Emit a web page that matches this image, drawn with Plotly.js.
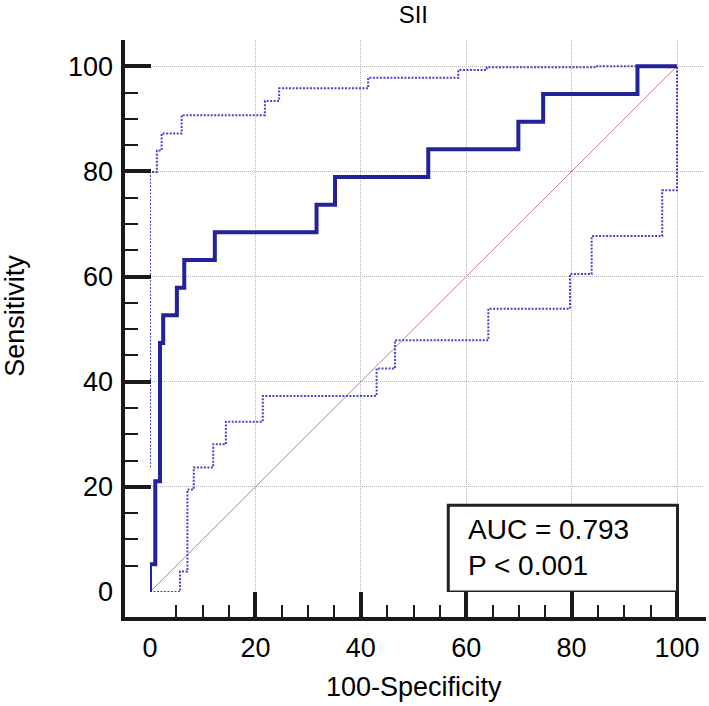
<!DOCTYPE html>
<html>
<head>
<meta charset="utf-8">
<script src="https://cdn.plot.ly/plotly-3.0.1.min.js"></script>
<style>html,body{margin:0;padding:0;background:#fff;}#chart{width:709px;height:706px;}</style>
</head>
<body>
<div id="chart"></div>
<script>
// ROC curve (100-Specificity, Sensitivity) step corners
const rocFpr = [0, 0, 1.0, 1.9, 2.5, 5.1, 6.5, 12.3, 31.6, 35.1, 52.8, 69.9, 74.6, 92.5, 100];
const rocTpr = [0, 5.26, 21.05, 47.37, 52.63, 57.89, 63.16, 68.42, 73.68, 78.95, 84.21, 89.47, 94.74, 100, 100];
// Upper 95% confidence bound
const upperFpr = [0, 0, 1.3, 2.2, 6.0, 21.8, 24.5, 41.4, 58.5, 63.9, 84.8, 100];
const upperTpr = [23.7, 79.9, 84.0, 87.2, 90.7, 93.4, 95.8, 97.8, 99.3, 99.8, 100, 100];
// Lower 95% confidence bound
const lowerFpr = [0, 5.7, 7.1, 8.3, 12.0, 14.4, 21.4, 43.0, 46.5, 64.2, 79.7, 83.8, 97.2, 100];
const lowerTpr = [0, 3.9, 19.5, 23.7, 28.1, 32.4, 37.3, 42.5, 47.9, 53.9, 60.5, 67.7, 76.4, 100];
// Reference diagonal
const diagX = [0, 100];
const diagY = [0, 100];
// Ticks
const majorTicks = [0, 20, 40, 60, 80, 100];
const majorLabels = ['0', '20', '40', '60', '80', '100'];
const minorTicks = [5, 10, 15, 25, 30, 35, 45, 50, 55, 65, 70, 75, 85, 90, 95];
// Texts
const chartTitle = 'SII';
const xTitle = '100-Specificity';
const yTitle = 'Sensitivity';
const aucText = 'AUC = 0.793';
const pText = 'P &lt; 0.001';

const FONT = 'Liberation Sans, Arial, sans-serif';
const ciColor = '#4646c8';

const traces = [
  {x: diagX, y: diagY, mode: 'lines', line: {color: '#c98080', width: 1}, hoverinfo: 'skip'},
  {x: lowerFpr, y: lowerTpr, mode: 'lines', line: {color: ciColor, width: 2, dash: '2px,1.5px', shape: 'hv'}},
  {x: upperFpr, y: upperTpr, mode: 'lines', line: {color: ciColor, width: 2, dash: '2px,1.5px', shape: 'hv'}},
  {x: rocFpr, y: rocTpr, mode: 'lines', line: {color: '#22229a', width: 4, shape: 'hv'}}
];

const axisCommon = {
  range: [0, 105],
  tickmode: 'array',
  tickvals: majorTicks,
  ticktext: majorLabels,
  ticks: 'inside',
  ticklen: 27,
  tickwidth: 4,
  tickcolor: '#1a1a1a',
  showline: false,
  zeroline: false,
  showgrid: true,
  gridcolor: '#b4b4b4',
  gridwidth: 1,
  griddash: '1px,1px',
  tickfont: {family: FONT, size: 27, color: '#000'},
  minor: {tickmode: 'array', tickvals: minorTicks, ticks: 'inside', ticklen: 14, tickwidth: 2, tickcolor: '#1a1a1a', showgrid: false},
  anchor: 'free',
  position: 0,
  fixedrange: true,
  automargin: false
};

const layout = {
  width: 709,
  height: 706,
  paper_bgcolor: '#fff',
  plot_bgcolor: '#fff',
  showlegend: false,
  margin: {l: 123, r: 3, t: 40, b: 87},
  title: {text: chartTitle, font: {family: FONT, size: 24, color: '#000'}, xref: 'paper', x: 0.498, xanchor: 'center', yref: 'container', y: 0.979, yanchor: 'middle'},
  xaxis: Object.assign({}, axisCommon, {
    domain: [27 / 583, 580.35 / 583],
    ticklabelstandoff: 10
  }),
  yaxis: Object.assign({}, axisCommon, {
    domain: [27 / 579, 1],
    ticklabelstandoff: 10,
    title: {text: yTitle, font: {family: FONT, size: 27, color: '#000'}, standoff: 35}
  }),
  shapes: [
    {type: 'line', xref: 'paper', yref: 'paper', x0: 0, x1: 0, y0: -0.003, y1: 1, line: {color: '#1a1a1a', width: 4}, layer: 'above'},
    {type: 'line', xref: 'paper', yref: 'paper', x0: -0.003, x1: 1, y0: 0, y1: 0, line: {color: '#1a1a1a', width: 4}, layer: 'above'},
    {type: 'rect', xref: 'x', yref: 'y', x0: 56.6, x1: 100.1, y0: 0, y1: 16.5, line: {color: '#222', width: 3}, fillcolor: '#fff', layer: 'above'}
  ],
  annotations: [
    {xref: 'x', yref: 'paper', x: 50, y: -0.1174, xanchor: 'center', yanchor: 'middle', showarrow: false,
     text: xTitle, font: {family: FONT, size: 27, color: '#000'}},
    {xref: 'x', yref: 'y', x: 60.0, y: 8.4, xanchor: 'left', yanchor: 'middle', align: 'left', showarrow: false,
     text: aucText + '<br>' + pText, font: {family: FONT, size: 28, color: '#000'}}
  ]
};

Plotly.newPlot('chart', traces, layout, {staticPlot: true, displayModeBar: false});
</script>
</body>
</html>
